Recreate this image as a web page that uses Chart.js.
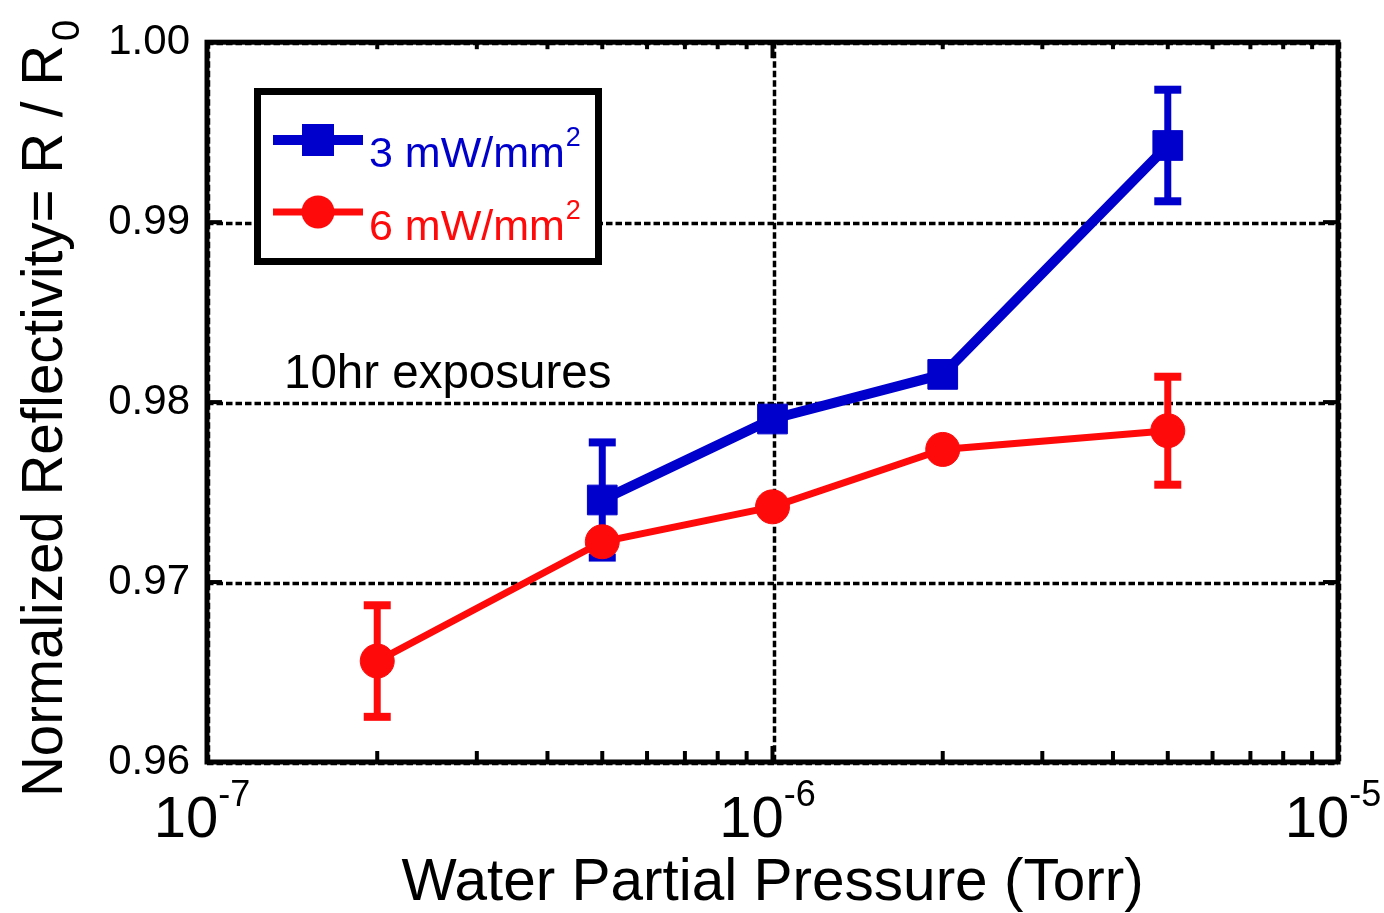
<!DOCTYPE html>
<html>
<head>
<meta charset="utf-8">
<script src="https://cdn.jsdelivr.net/npm/chart.js@4.4.0/dist/chart.umd.min.js"></script>
<style>
  html, body { margin: 0; padding: 0; background: #fff; }
  canvas { display: block; }
</style>
</head>
<body>
<canvas id="chart" width="1384" height="913"></canvas>
<script>
const FONT = '"Liberation Sans", Arial, Helvetica, sans-serif';
const BLUE = 'rgb(0, 0, 205)';
const RED = 'rgb(255, 10, 10)';

// 3 mW/mm² exposures
const pressureLow = [5e-7, 1e-6, 2e-6, 5e-6];
const reflLow = [0.97456, 0.97906, 0.98154, 0.99426];
const errLow = [0.0032, null, null, 0.0031];

// 6 mW/mm² exposures
const pressureHigh = [2e-7, 5e-7, 1e-6, 2e-6, 5e-6];
const reflHigh = [0.96561, 0.97224, 0.97418, 0.97737, 0.97841];
const errHigh = [0.0031, null, null, null, 0.0030];

// axis ticks
const xTickExponents = [-7, -6, -5];
const yTickValues = [0.96, 0.97, 0.98, 0.99, 1.00];

const seriesLabels = ['3 mW/mm', '6 mW/mm'];
const unitPower = '2';
const noteText = '10hr exposures';
const xTitle = 'Water Partial Pressure (Torr)';
const yTitle = 'Normalized Reflectivity= R / R';
const yTitleSub = '0';

const errors = [errLow, errHigh];

function seg(ctx, x1, y1, x2, y2) {
  ctx.beginPath();
  ctx.moveTo(x1, y1);
  ctx.lineTo(x2, y2);
  ctx.stroke();
}

const decorations = {
  id: 'decorations',
  beforeDatasetsDraw(chart) {
    const { ctx, chartArea: a, scales: { x, y } } = chart;
    ctx.save();
    // dashed grid at the major ticks
    ctx.strokeStyle = '#000';
    ctx.lineWidth = 3.5;
    ctx.setLineDash([6.5, 3]);
    for (const v of yTickValues) {
      const py = Math.round(y.getPixelForValue(v)) + 1.5;
      seg(ctx, a.left, py, a.right, py);
    }
    for (const e of xTickExponents) {
      const px = Math.round(x.getPixelForValue(Math.pow(10, e))) + 1.5;
      seg(ctx, px, a.top, px, a.bottom);
    }
    ctx.setLineDash([]);

    // error bars
    chart.data.datasets.forEach((ds, i) => {
      const errs = errors[i];
      ctx.strokeStyle = ds.borderColor;
      ds.data.forEach((pt, j) => {
        const e = errs[j];
        if (e == null) return;
        const px = x.getPixelForValue(pt.x);
        const top = y.getPixelForValue(pt.y + e);
        const bot = y.getPixelForValue(pt.y - e);
        ctx.lineWidth = 7;
        seg(ctx, px, top, px, bot);
        ctx.lineWidth = 8;
        seg(ctx, px - 13.5, top, px + 13.5, top);
        seg(ctx, px - 13.5, bot, px + 13.5, bot);
      });
    });
    ctx.restore();
  },
  afterDatasetsDraw(chart) {
    const { ctx, chartArea: a, scales: { x, y } } = chart;
    ctx.save();
    ctx.strokeStyle = '#000';
    ctx.fillStyle = '#000';

    // frame
    ctx.lineWidth = 5;
    ctx.strokeRect(a.left, a.top, a.right - a.left, a.bottom - a.top);

    // y major ticks, both sides
    ctx.lineWidth = 4;
    for (const v of yTickValues) {
      const py = y.getPixelForValue(v);
      seg(ctx, a.left, py, a.left + 15, py);
      seg(ctx, a.right - 15, py, a.right, py);
    }
    // x major and minor ticks
    for (let e = xTickExponents[0]; e < xTickExponents[xTickExponents.length - 1]; e++) {
      for (let k = 1; k <= 9; k++) {
        const px = x.getPixelForValue(k * Math.pow(10, e));
        const major = k === 1;
        seg(ctx, px, a.bottom, px, a.bottom - (major ? 16 : 11));
        seg(ctx, px, a.top, px, a.top + (major ? 16 : 7));
      }
    }

    // x tick labels, 10 with a raised exponent
    ctx.textBaseline = 'alphabetic';
    ctx.textAlign = 'left';
    for (const e of xTickExponents) {
      const px = x.getPixelForValue(Math.pow(10, e));
      ctx.font = `58px ${FONT}`;
      const w1 = ctx.measureText('10').width;
      ctx.font = `36px ${FONT}`;
      const w2 = ctx.measureText(String(e)).width;
      const start = px - 5 - (w1 + w2) / 2;
      ctx.font = `58px ${FONT}`;
      ctx.fillText('10', start, 837);
      ctx.font = `36px ${FONT}`;
      ctx.fillText(String(e), start + w1, 806);
    }

    // x axis title
    ctx.font = `58.5px ${FONT}`;
    ctx.textAlign = 'center';
    ctx.fillText(xTitle, (a.left + a.right) / 2, 900);

    // y axis title with subscript
    ctx.save();
    ctx.translate(62, 797);
    ctx.rotate(-Math.PI / 2);
    ctx.textAlign = 'left';
    ctx.font = `56.5px ${FONT}`;
    ctx.fillText(yTitle, 0, 0);
    const wt = ctx.measureText(yTitle).width;
    ctx.font = `38px ${FONT}`;
    ctx.fillText(yTitleSub, wt + 4, 17);
    ctx.restore();

    // annotation
    ctx.font = `47.5px ${FONT}`;
    ctx.textAlign = 'left';
    ctx.fillText(noteText, 284, 388);

    // legend box
    const bx = 257.5, by = 91.5, bw = 341, bh = 170;
    ctx.fillStyle = '#fff';
    ctx.fillRect(bx, by, bw, bh);
    ctx.lineWidth = 7;
    ctx.strokeStyle = '#000';
    ctx.strokeRect(bx, by, bw, bh);
    const rows = [
      { y: 140, base: 167 },
      { y: 212, base: 240 }
    ];
    chart.data.datasets.forEach((ds, i) => {
      const r = rows[i];
      ctx.strokeStyle = ds.borderColor;
      ctx.fillStyle = ds.borderColor;
      ctx.lineWidth = ds.borderWidth;
      seg(ctx, 273, r.y, 363, r.y);
      if (ds.pointStyle === 'rect') {
        ctx.fillRect(318 - 16, r.y - 16, 32, 32);
      } else {
        ctx.beginPath();
        ctx.arc(318, r.y, 16.5, 0, Math.PI * 2);
        ctx.fill();
      }
      ctx.font = `43px ${FONT}`;
      ctx.textAlign = 'left';
      ctx.fillText(seriesLabels[i], 369, r.base);
      const wl = ctx.measureText(seriesLabels[i]).width;
      ctx.font = `27px ${FONT}`;
      ctx.fillText(unitPower, 369 + wl + 1, r.base - 21);
    });
    ctx.restore();
  }
};

new Chart(document.getElementById('chart'), {
  type: 'line',
  data: {
    datasets: [
      {
        label: seriesLabels[0] + '²',
        data: pressureLow.map((p, i) => ({ x: p, y: reflLow[i] })),
        borderColor: BLUE,
        backgroundColor: BLUE,
        borderWidth: 10,
        pointStyle: 'rect',
        pointRadius: 21,
        pointBorderWidth: 1,
        pointBackgroundColor: BLUE,
        tension: 0,
        order: 2
      },
      {
        label: seriesLabels[1] + '²',
        data: pressureHigh.map((p, i) => ({ x: p, y: reflHigh[i] })),
        borderColor: RED,
        backgroundColor: RED,
        borderWidth: 7,
        pointStyle: 'circle',
        pointRadius: 17,
        pointBorderWidth: 1,
        pointBackgroundColor: RED,
        tension: 0,
        order: 1
      }
    ]
  },
  options: {
    responsive: false,
    animation: false,
    devicePixelRatio: 1,
    layout: { padding: { top: 40, right: 46, left: 0, bottom: 0 } },
    plugins: {
      legend: { display: false },
      tooltip: { enabled: false },
      title: { display: false }
    },
    scales: {
      x: {
        type: 'logarithmic',
        min: 1e-7,
        max: 1e-5,
        grid: { display: false, drawTicks: false },
        border: { display: false },
        ticks: { display: false },
        afterFit(s) { s.height = 151; }
      },
      y: {
        type: 'linear',
        min: yTickValues[0],
        max: yTickValues[yTickValues.length - 1],
        grid: { display: false, drawTicks: false },
        border: { display: false },
        ticks: {
          stepSize: 0.01,
          padding: 17,
          color: '#000',
          font: { family: FONT, size: 42 },
          callback: v => v.toFixed(2)
        },
        afterFit(s) { s.width = 207; }
      }
    }
  },
  plugins: [decorations]
});
</script>
</body>
</html>
